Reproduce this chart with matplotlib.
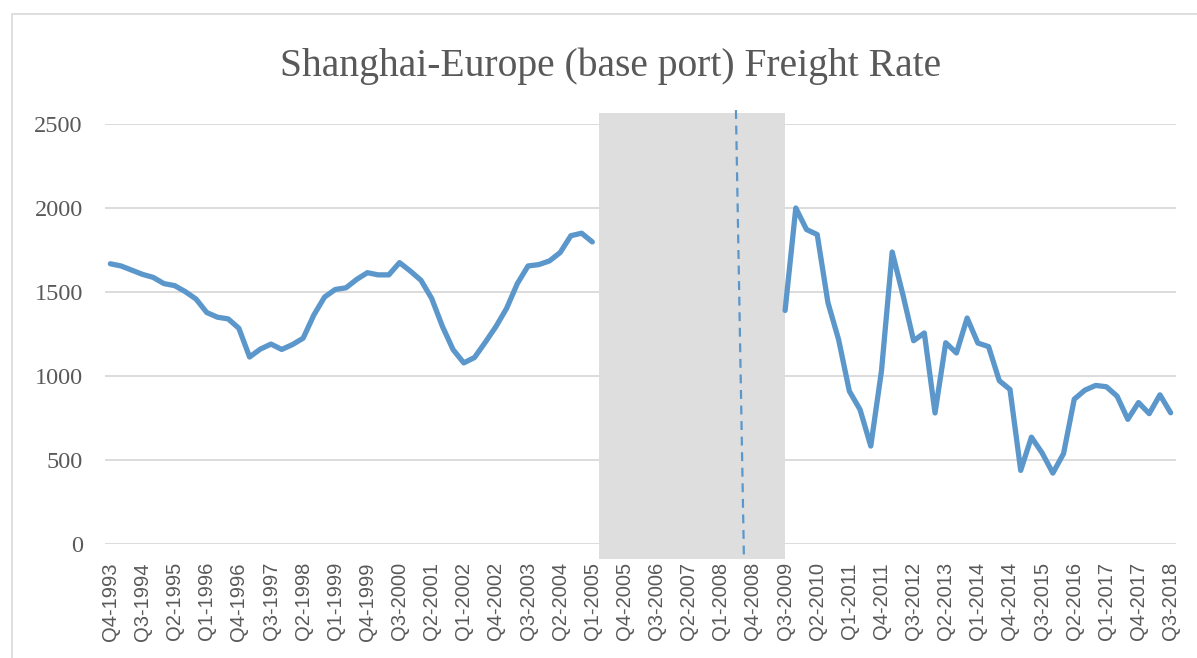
import matplotlib
matplotlib.use("Agg")
import matplotlib.pyplot as plt
from matplotlib.patches import Rectangle
import numpy as np

# ---- data ----
years = list(range(1993, 2019))
quarters = [f"Q{q}-{y}" for y in years for q in (1, 2, 3, 4)]
quarters = quarters[quarters.index("Q4-1993"):quarters.index("Q3-2018") + 1]

rates = [
    1668, 1655, 1630, 1605, 1587, 1550, 1538, 1502, 1458, 1378,
    1350, 1340, 1284, 1113, 1160, 1190, 1158, 1187, 1225, 1363,
    1470, 1515, 1525, 1575, 1615, 1602, 1602, 1675, 1625, 1570,
    1462, 1296, 1157, 1078, 1110, 1200, 1294, 1403, 1550, 1655,
    1663, 1685, 1735, 1835, 1850, 1798,
    None, None, None, None, None, None, None, None, None, None,
    None, None, None, None, None, None, None,
    1390, 2000, 1872, 1842, 1437, 1216, 910, 800, 583, 1030,
    1738, 1484, 1210, 1256, 780, 1198, 1137, 1345, 1196, 1175,
    972, 920, 438, 636, 542, 422, 538, 862, 916, 944,
    936, 880, 742, 842, 776, 888, 781,
]

tick_labels = quarters[::3]
y_ticks = [0, 500, 1000, 1500, 2000, 2500]

title = "Shanghai-Europe (base port) Freight Rate"

# ---- figure ----
W, H = 1197, 658
fig = plt.figure(figsize=(W / 100, H / 100), dpi=100)
ax = fig.add_axes([105 / W, 1 - 544 / H, (1176 - 105) / W, (544 - 124) / H])

x = np.arange(len(quarters))
y = np.array([np.nan if v is None else v for v in rates], dtype=float)

line_color = "#5B97CB"
text_color = "#595959"

# shaded region and dashed marker (annotation shapes)
ax.add_patch(Rectangle((45.62, -89), 62.96 - 45.62, 2567 + 89,
                       facecolor="#DEDEDE", edgecolor="none",
                       clip_on=False, zorder=1))
ax.plot([58.41, 59.16], [2583, -95], color=line_color, lw=1.6,
        dashes=(4, 3), clip_on=False, zorder=3)

ax.plot(x, y, color=line_color, lw=3.8, solid_joinstyle="round",
        solid_capstyle="round", zorder=4)

ax.set_xlim(-0.5, len(quarters) - 0.5)
ax.set_ylim(0, 2500)
ax.set_yticks(y_ticks)
ax.set_yticklabels([str(t) for t in y_ticks], fontfamily="Liberation Serif",
                   fontsize=17.5, color=text_color)
ax.set_xticks(x[::3])
ax.set_xticklabels(tick_labels, rotation=90, ha="center", va="top",
                   fontfamily=["Liberation Sans Narrow", "Liberation Sans"],
                   fontsize=14.5, color=text_color)
ax.tick_params(axis="y", length=0, pad=16)
ax.tick_params(axis="x", length=0, pad=13)
ax.yaxis.grid(True, color="#D9D9D9", lw=1.3, zorder=0)
ax.set_axisbelow(True)
for s in ax.spines.values():
    s.set_visible(False)

fig.text(611 / W, 1 - 66 / H, title, ha="center", va="center",
         fontfamily="Liberation Serif", fontsize=28.5, color=text_color)

# chart-area border
fig.patches.append(Rectangle((12 / W, -0.1), 1.2, 1 - 14 / H + 0.1,
                             transform=fig.transFigure, facecolor="none",
                             edgecolor="#D9D9D9", lw=1.2))

fig.savefig("out.png", dpi=100)
